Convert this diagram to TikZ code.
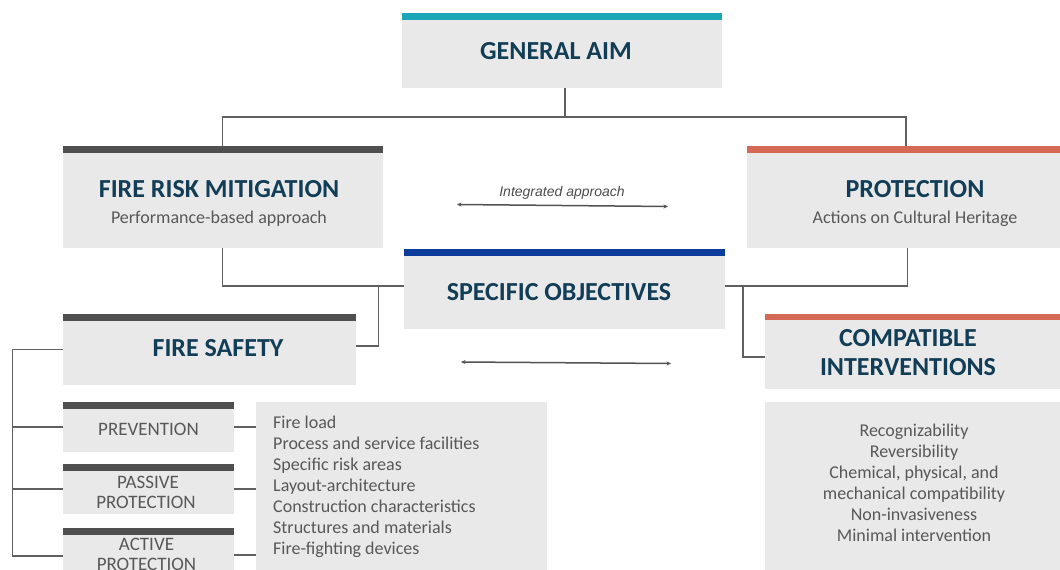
\documentclass[tikz,border=0pt]{standalone}
\usepackage{fontspec}
\setmainfont{Carlito}
\newfontfamily\arialfont{Liberation Sans}
\usetikzlibrary{calc,arrows.meta}
\definecolor{boxgray}{HTML}{E9E9E9}
\definecolor{navy}{HTML}{123D56}
\definecolor{subgray}{HTML}{585858}
\definecolor{conngray}{HTML}{606060}
\definecolor{barteal}{HTML}{1AA6B6}
\definecolor{bardark}{HTML}{4F4F4F}
\definecolor{barcoral}{HTML}{D46A54}
\definecolor{barblue}{HTML}{0B3C9C}
\begin{document}
\begin{tikzpicture}[x=1pt,y=-1pt,
  box/.style={fill=boxgray, inner sep=0pt, outer sep=0pt, anchor=north west},
  titletxt/.style={font=\fontsize{26}{30}\selectfont\bfseries, text=navy, inner sep=0pt, anchor=base},
  subtxt/.style={font=\fontsize{18}{21}\selectfont, text=subgray, inner sep=0pt, anchor=base},
  itemtxt/.style={font=\fontsize{19}{21}\selectfont, text=subgray, inner sep=0pt, anchor=base},
  listtxt/.style={font=\fontsize{18}{21}\selectfont, text=subgray, inner sep=0pt},
  conn/.style={draw=conngray, line width=1.4pt},
  arr/.style={draw=conngray!85!black, line width=1.5pt, {Stealth[length=4.5pt,width=4pt]}-{Stealth[length=4.5pt,width=4pt]}}
]
\clip (0,0) rectangle (1060,570);
\fill[white] (0,0) rectangle (1060,570);

% boxes
\node[box, minimum width=320pt, minimum height=75pt] (ga) at (402,13) {};
\node[box, minimum width=320.5pt, minimum height=102pt] (frm) at (62.5,146) {};
\node[box, minimum width=313pt, minimum height=102pt] (prot) at (747,146) {};
\node[box, minimum width=320.5pt, minimum height=80pt] (so) at (404,249) {};
\node[box, minimum width=293pt, minimum height=71.5pt] (fs) at (63,313.5) {};
\node[box, minimum width=295pt, minimum height=75pt] (ci) at (765,314) {};
\node[box, minimum width=171pt, minimum height=50pt] (prev) at (63,402) {};
\node[box, minimum width=171pt, minimum height=50pt] (pass) at (63,464) {};
\node[box, minimum width=171pt, minimum height=52pt] (act) at (63,528) {};
\node[box, minimum width=291pt, minimum height=178pt] (fl) at (256,402) {};
\node[box, minimum width=295pt, minimum height=178pt] (cl) at (765,402) {};

% bars
\fill[barteal] (ga.north west) rectangle ($(ga.north east)+(0,7)$);
\fill[bardark] (frm.north west) rectangle ($(frm.north east)+(0,7)$);
\fill[barcoral] (prot.north west) rectangle ($(prot.north east)+(0,7)$);
\fill[barblue] (so.north west) rectangle ($(so.north east)+(0,7)$);
\fill[bardark] (fs.north west) rectangle ($(fs.north east)+(0,7)$);
\fill[barcoral] (ci.north west) rectangle ($(ci.north east)+(0,6)$);
\fill[bardark] (prev.north west) rectangle ($(prev.north east)+(0,7)$);
\fill[bardark] (pass.north west) rectangle ($(pass.north east)+(0,7)$);
\fill[bardark] (act.north west) rectangle ($(act.north east)+(0,7)$);

% texts
\node[titletxt] (gat) at (556,59.3) {GENERAL AIM};
\node[titletxt] (frmt) at (219,197.7) {FIRE RISK MITIGATION};
\node[subtxt] (frms) at (219,223.3) {Performance-based approach};
\node[titletxt] (prott) at (915,197.7) {PROTECTION};
\node[subtxt] (prots) at (915,223.3) {Actions on Cultural Heritage};
\node[font=\arialfont\itshape\fontsize{14}{16}\selectfont, text=conngray!80!black, inner sep=0pt, anchor=base] (integ) at (562,196) {Integrated approach};
\node[titletxt] (sot) at (559,300) {SPECIFIC OBJECTIVES};
\node[titletxt] (fst) at (218,356) {FIRE SAFETY};
\node[titletxt] (cit1) at (908,346.7) {COMPATIBLE};
\node[titletxt] (cit2) at (908,375) {INTERVENTIONS};
\node[itemtxt] (prevt) at (148.5,435) {PREVENTION};
\node[itemtxt] (passt1) at (148,488.3) {PASSIVE};
\node[itemtxt] (passt2) at (146,508.3) {PROTECTION};
\node[itemtxt] (actt1) at (146.5,550) {ACTIVE};
\node[itemtxt] (actt2) at (146.5,570) {PROTECTION};

\foreach \t [count=\i] in {Fire load, Process and service facilities, Specific risk areas, Layout-architecture, Construction characteristics, Structures and materials, Fire-fighting devices}
  \node[listtxt, anchor=base west] (fl\i) at (273,{428.3+21.1*(\i-1)}) {\t};

\foreach \t [count=\i] in {Recognizability, Reversibility, {Chemical, physical, and}, mechanical compatibility, Non-invasiveness, Minimal intervention}
  \node[listtxt, anchor=base] (cl\i) at (914,{436+21.1*(\i-1)}) {\t};

% arrows
\coordinate (a1l) at (457,204.5);
\coordinate (a1r) at (668,206.5);
\draw[arr] (a1l) -- (a1r);
\coordinate (a2l) at (461,362);
\coordinate (a2r) at (671,363.5);
\draw[arr] (a2l) -- (a2r);

% connectors
\coordinate (j1) at ($(ga.south)+(3,29)$);
\draw[conn] ($(ga.south)+(3,0)$) -- (j1);
\draw[conn] (frm.north) |- (j1) -| ($(prot.north)+(2.5,0)$);
\coordinate (soL) at ($(so.north west)+(0,37)$);
\coordinate (soR) at ($(so.north east)+(0,37)$);
\draw[conn] ($(frm.south)+(-0.5,0)$) |- (soL);
\draw[conn] ($(prot.south)+(4,0)$) |- (soR);
\coordinate (fsR) at ($(fs.north east)+(0,32.5)$);
\draw[conn] ($(soL)+(-25.5,0)$) |- (fsR);
\coordinate (ciL) at ($(ci.north west)+(0,43)$);
\draw[conn] ($(soR)+(18.5,0)$) |- (ciL);
\coordinate (bx) at (12.5,0);
\coordinate (actL) at ($(act.north west)+(0,28)$);
\draw[conn] (fs.west) -- (fs.west -| bx) -- (bx |- actL) -- (actL);
\draw[conn] (prev.west -| bx) -- (prev.west);
\draw[conn] (pass.west -| bx) -- (pass.west);
\coordinate (actR) at ($(act.north east)+(0,27)$);
\draw[conn] (prev.east) -- (prev.east -| fl.west);
\draw[conn] (pass.east) -- (pass.east -| fl.west);
\draw[conn] (actR) -- (actR -| fl.west);
\end{tikzpicture}
\end{document}
